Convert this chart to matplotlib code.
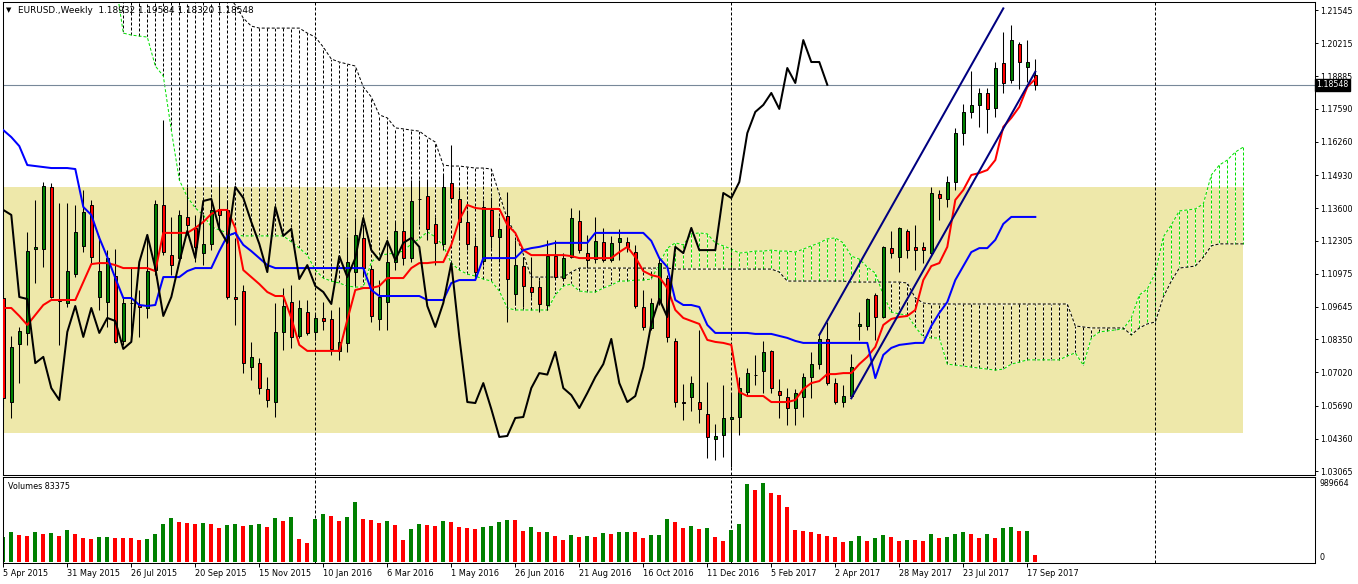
import numpy as np
import matplotlib
matplotlib.use("Agg")
import matplotlib.pyplot as plt
from matplotlib.patches import Rectangle
from matplotlib.transforms import blended_transform_factory

plt.rcParams['font.family'] = ['DejaVu Sans']

# EURUSD weekly bars, first bar = week of 5 Apr 2015
opens = [1.1000, 1.0583, 1.0816, 1.0860, 1.1196, 1.1196, 1.1445, 1.0996, 1.0980, 1.1096,
         1.1209, 1.1373, 1.1004, 1.0984, 1.1088, 1.0828, 1.0980, 1.0972, 1.0960, 1.1112,
         1.1373, 1.1172, 1.1160, 1.1325, 1.1281, 1.1180, 1.1217, 1.1357, 1.1353, 1.1004,
         1.1028, 1.0723, 1.0739, 1.0635, 1.0583, 1.0864, 1.0984, 1.0848, 1.0944, 1.0864,
         1.0920, 1.0916, 1.0788, 1.0820, 1.1104, 1.1241, 1.1116, 1.0916, 1.0984, 1.1144,
         1.1269, 1.1160, 1.1397, 1.1409, 1.1297, 1.1217, 1.1461, 1.1397, 1.1305, 1.1209,
         1.1148, 1.1353, 1.1245, 1.1329, 1.1016, 1.1128, 1.1044, 1.1044, 1.0972, 1.1168,
         1.1080, 1.1164, 1.1309, 1.1180, 1.1156, 1.1225, 1.1152, 1.1225, 1.1225, 1.1184,
         1.0964, 1.0880, 1.0984, 1.1080, 1.0828, 1.0583, 1.0603, 1.0583, 1.0535, 1.0435,
         1.0451, 1.0515, 1.0523, 1.0623, 1.0693, 1.0707, 1.0788, 1.0627, 1.0603, 1.0559,
         1.0603, 1.0683, 1.0735, 1.0836, 1.0659, 1.0583, 1.0607, 1.0888, 1.0888, 1.1012,
         1.0924, 1.1200, 1.1164, 1.1269, 1.1205, 1.1205, 1.1180, 1.1417, 1.1397, 1.1465,
         1.1661, 1.1746, 1.1774, 1.1822, 1.1762, 1.1942, 1.1874, 1.2018, 1.1926, 1.18932]
highs = [1.1032, 1.0848, 1.0884, 1.1265, 1.1393, 1.1465, 1.1461, 1.1381, 1.1381, 1.1373,
         1.1433, 1.1393, 1.1249, 1.1192, 1.1196, 1.1004, 1.1124, 1.1032, 1.1253, 1.1393,
         1.1714, 1.1325, 1.1353, 1.1445, 1.1333, 1.1333, 1.1393, 1.1501, 1.1393, 1.1241,
         1.1052, 1.0824, 1.0760, 1.0683, 1.0980, 1.1040, 1.1052, 1.0992, 1.0992, 1.0940,
         1.0984, 1.0952, 1.0964, 1.1245, 1.1321, 1.1293, 1.1132, 1.1072, 1.1233, 1.1305,
         1.1321, 1.1473, 1.1473, 1.1473, 1.1325, 1.1493, 1.1613, 1.1433, 1.1353, 1.1245,
         1.1393, 1.1405, 1.1325, 1.1425, 1.1233, 1.1164, 1.1164, 1.1072, 1.1233, 1.1233,
         1.1180, 1.1361, 1.1353, 1.1253, 1.1325, 1.1281, 1.1249, 1.1277, 1.1245, 1.1213,
         1.1032, 1.1000, 1.1160, 1.1092, 1.0840, 1.0655, 1.0687, 1.0872, 1.0663, 1.0495,
         1.0651, 1.0619, 1.0683, 1.0719, 1.0772, 1.0828, 1.0792, 1.0675, 1.0639, 1.0635,
         1.0699, 1.0784, 1.0852, 1.0904, 1.0679, 1.0651, 1.0776, 1.0944, 1.1000, 1.1020,
         1.1209, 1.1269, 1.1285, 1.1277, 1.1293, 1.1225, 1.1445, 1.1433, 1.1489, 1.1682,
         1.1778, 1.1910, 1.1842, 1.1842, 1.1946, 1.2066, 1.2094, 1.2026, 1.2034, 1.19584]
lows = [1.0563, 1.0519, 1.0659, 1.0812, 1.1060, 1.1124, 1.1000, 1.0812, 1.0964, 1.1084,
        1.1184, 1.1140, 1.0952, 1.0884, 1.0820, 1.0812, 1.0832, 1.0844, 1.0920, 1.1092,
        1.1172, 1.1092, 1.1144, 1.1253, 1.1144, 1.1132, 1.1192, 1.1281, 1.0996, 1.0892,
        1.0699, 1.0671, 1.0615, 1.0563, 1.0523, 1.0792, 1.0800, 1.0840, 1.0852, 1.0832,
        1.0872, 1.0772, 1.0752, 1.0784, 1.1052, 1.1088, 1.0904, 1.0872, 1.0872, 1.1112,
        1.1132, 1.1144, 1.1293, 1.1233, 1.1132, 1.1192, 1.1393, 1.1233, 1.1192, 1.1084,
        1.1132, 1.1200, 1.1144, 1.0904, 1.0972, 1.0964, 1.1004, 1.0944, 1.0952, 1.1080,
        1.1072, 1.1160, 1.1180, 1.1120, 1.1140, 1.1144, 1.1144, 1.1152, 1.1184, 1.0960,
        1.0872, 1.0872, 1.0972, 1.0824, 1.0563, 1.0511, 1.0547, 1.0499, 1.0359, 1.0351,
        1.0363, 1.0323, 1.0451, 1.0611, 1.0651, 1.0619, 1.0619, 1.0519, 1.0491, 1.0491,
        1.0523, 1.0599, 1.0715, 1.0651, 1.0575, 1.0563, 1.0599, 1.0832, 1.0872, 1.0832,
        1.0920, 1.1160, 1.1104, 1.1160, 1.1112, 1.1140, 1.1172, 1.1313, 1.1365, 1.1433,
        1.1613, 1.1722, 1.1686, 1.1661, 1.1726, 1.1822, 1.1862, 1.1838, 1.1866, 1.18320]
closes = [1.0599, 1.0804, 1.0868, 1.1188, 1.1205, 1.1449, 1.1004, 1.0988, 1.1108, 1.1265,
          1.1345, 1.1164, 1.1108, 1.1160, 1.0824, 1.0980, 1.0980, 1.0964, 1.1108, 1.1377,
          1.1184, 1.1132, 1.1333, 1.1293, 1.1205, 1.1217, 1.1353, 1.1333, 1.1004, 1.0996,
          1.0739, 1.0764, 1.0639, 1.0591, 1.0864, 1.0968, 1.0844, 1.0960, 1.0860, 1.0920,
          1.0908, 1.0796, 1.0824, 1.1144, 1.1253, 1.1120, 1.0928, 1.1004, 1.1144, 1.1269,
          1.1160, 1.1389, 1.1397, 1.1277, 1.1221, 1.1445, 1.1401, 1.1305, 1.1217, 1.1104,
          1.1365, 1.1249, 1.1277, 1.1076, 1.1132, 1.1048, 1.1024, 1.0976, 1.1168, 1.1084,
          1.1160, 1.1321, 1.1192, 1.1152, 1.1229, 1.1152, 1.1221, 1.1241, 1.1205, 1.0968,
          1.0884, 1.0980, 1.1140, 1.0844, 1.0583, 1.0579, 1.0659, 1.0555, 1.0443, 1.0447,
          1.0519, 1.0523, 1.0639, 1.0699, 1.0693, 1.0784, 1.0639, 1.0611, 1.0559, 1.0619,
          1.0683, 1.0735, 1.0836, 1.0659, 1.0583, 1.0607, 1.0723, 1.0896, 1.0996, 1.0924,
          1.1205, 1.1180, 1.1281, 1.1192, 1.1192, 1.1192, 1.1421, 1.1401, 1.1465, 1.1661,
          1.1746, 1.1774, 1.1822, 1.1758, 1.1922, 1.1862, 1.2034, 1.1946, 1.1946, 1.18548]
volumes = [317000, 376000, 338000, 326000, 376000, 351000, 363000, 326000, 401000, 351000,
           301000, 288000, 313000, 315000, 301000, 299000, 297000, 276000, 288000, 351000,
           476000, 551000, 501000, 489000, 476000, 489000, 476000, 426000, 464000, 476000,
           451000, 464000, 476000, 438000, 551000, 514000, 564000, 288000, 238000, 539000,
           601000, 576000, 514000, 564000, 752000, 539000, 526000, 489000, 514000, 464000,
           276000, 413000, 476000, 464000, 451000, 514000, 501000, 438000, 426000, 413000,
           438000, 451000, 501000, 526000, 524000, 388000, 438000, 376000, 378000, 326000,
           276000, 338000, 313000, 326000, 313000, 363000, 351000, 376000, 378000, 374000,
           301000, 338000, 340000, 539000, 501000, 426000, 451000, 413000, 426000, 313000,
           263000, 401000, 476000, 977000, 902000, 989664, 864000, 839000, 689000, 401000,
           388000, 376000, 351000, 326000, 313000, 251000, 263000, 326000, 263000, 301000,
           338000, 313000, 263000, 276000, 274000, 263000, 351000, 301000, 313000, 351000,
           376000, 351000, 301000, 351000, 301000, 426000, 438000, 388000, 390000, 83375]

# Ichimoku lines as drawn on the chart
tenkan = [1.0960, 1.0960, 1.0928, 1.0892, 1.0932, 1.0972, 1.0992, 1.0992, 1.0992, 1.0992,
          1.1064, 1.1136, 1.1140, 1.1140, 1.1132, 1.1120, 1.1120, 1.1120, 1.1120, 1.1108,
          1.1261, 1.1261, 1.1261, 1.1261, 1.1281, 1.1305, 1.1337, 1.1353, 1.1353, 1.1281,
          1.1112, 1.1084, 1.1056, 1.1024, 1.1008, 1.1008, 1.0920, 1.0812, 1.0788, 1.0788,
          1.0788, 1.0788, 1.0788, 1.0912, 1.1032, 1.1040, 1.1040, 1.1048, 1.1080, 1.1080,
          1.1080, 1.1120, 1.1140, 1.1140, 1.1144, 1.1144, 1.1213, 1.1313, 1.1373, 1.1361,
          1.1357, 1.1357, 1.1357, 1.1293, 1.1261, 1.1192, 1.1172, 1.1172, 1.1172, 1.1172,
          1.1172, 1.1168, 1.1160, 1.1160, 1.1160, 1.1160, 1.1160, 1.1184, 1.1205, 1.1164,
          1.1108, 1.1092, 1.1084, 1.1040, 1.0952, 1.0920, 1.0908, 1.0896, 1.0832, 1.0824,
          1.0820, 1.0812, 1.0623, 1.0607, 1.0607, 1.0607, 1.0583, 1.0583, 1.0583, 1.0591,
          1.0635, 1.0659, 1.0667, 1.0695, 1.0695, 1.0699, 1.0699, 1.0735, 1.0764, 1.0804,
          1.0892, 1.0916, 1.0924, 1.0928, 1.0952, 1.1072, 1.1128, 1.1140, 1.1205, 1.1393,
          1.1433, 1.1493, 1.1501, 1.1513, 1.1553, 1.1686, 1.1722, 1.1766, 1.1846, 1.1878]
kijun = [1.1673, 1.1645, 1.1609, 1.1533, 1.1529, 1.1525, 1.1521, 1.1521, 1.1521, 1.1517,
         1.1365, 1.1333, 1.1241, 1.1164, 1.1080, 1.1000, 1.1000, 1.0972, 1.0968, 1.0972,
         1.1084, 1.1084, 1.1084, 1.1108, 1.1120, 1.1120, 1.1120, 1.1188, 1.1249, 1.1261,
         1.1213, 1.1188, 1.1160, 1.1132, 1.1120, 1.1120, 1.1120, 1.1120, 1.1120, 1.1120,
         1.1120, 1.1120, 1.1120, 1.1120, 1.1120, 1.1120, 1.1032, 1.1008, 1.1008, 1.1008,
         1.1008, 1.1008, 1.1008, 1.0992, 1.0992, 1.0992, 1.1060, 1.1072, 1.1072, 1.1072,
         1.1160, 1.1160, 1.1160, 1.1160, 1.1160, 1.1192, 1.1200, 1.1205, 1.1213, 1.1221,
         1.1221, 1.1221, 1.1221, 1.1221, 1.1261, 1.1261, 1.1261, 1.1261, 1.1261, 1.1261,
         1.1261, 1.1229, 1.1160, 1.1124, 1.0992, 1.0972, 1.0972, 1.0964, 1.0892, 1.0860,
         1.0860, 1.0860, 1.0860, 1.0860, 1.0856, 1.0856, 1.0856, 1.0848, 1.0840, 1.0828,
         1.0820, 1.0820, 1.0820, 1.0820, 1.0820, 1.0820, 1.0820, 1.0820, 1.0820, 1.0679,
         1.0772, 1.0800, 1.0812, 1.0816, 1.0820, 1.0820, 1.0888, 1.0940, 1.0984, 1.1072,
         1.1128, 1.1184, 1.1200, 1.1200, 1.1233, 1.1297, 1.1325, 1.1325, 1.1325, 1.1325]
chikou_shift = 26

span_start = 14  # first bar where the cloud reaches into view
span_a = [1.2275, 1.2062, 1.2054, 1.2050, 1.2046, 1.1930, 1.1890, 1.1673, 1.1473, 1.1405,
          1.1361, 1.1333, 1.1285, 1.1273, 1.1261, 1.1253, 1.1249, 1.1249, 1.1249, 1.1249,
          1.1249, 1.1249, 1.1225, 1.1200, 1.1172, 1.1112, 1.1080, 1.1068, 1.1060, 1.1048,
          1.1044, 1.1044, 1.1144, 1.1172, 1.1176, 1.1180, 1.1188, 1.1217, 1.1237, 1.1265,
          1.1245, 1.1209, 1.1140, 1.1112, 1.1096, 1.1088, 1.1076, 1.1068, 1.1028, 1.0960,
          1.0952, 1.0952, 1.0952, 1.0952, 1.0952, 1.1012, 1.1048, 1.1056, 1.1028, 1.1024,
          1.1024, 1.1040, 1.1052, 1.1068, 1.1068, 1.1072, 1.1072, 1.1076, 1.1136, 1.1200,
          1.1221, 1.1213, 1.1257, 1.1261, 1.1257, 1.1221, 1.1209, 1.1196, 1.1180, 1.1184,
          1.1188, 1.1188, 1.1192, 1.1188, 1.1188, 1.1184, 1.1196, 1.1209, 1.1221, 1.1237,
          1.1241, 1.1221, 1.1168, 1.1156, 1.1124, 1.1100, 1.1012, 1.0944, 1.0936, 1.0932,
          1.0884, 1.0844, 1.0840, 1.0840, 1.0735, 1.0731, 1.0727, 1.0723, 1.0719, 1.0715,
          1.0711, 1.0715, 1.0735, 1.0743, 1.0752, 1.0752, 1.0752, 1.0752, 1.0752, 1.0768,
          1.0780, 1.0731, 1.0840, 1.0864, 1.0868, 1.0872, 1.0876, 1.0920, 1.1012, 1.1036,
          1.1100, 1.1245, 1.1293, 1.1349, 1.1353, 1.1357, 1.1377, 1.1493, 1.1533, 1.1553,
          1.1585, 1.1605]
span_b = [1.2275, 1.2275, 1.2275, 1.2275, 1.2275, 1.2275, 1.2275, 1.2275, 1.2275, 1.2275,
          1.2275, 1.2275, 1.2275, 1.2275, 1.2215, 1.2175, 1.2122, 1.2090, 1.2082, 1.2082,
          1.2082, 1.2082, 1.2082, 1.2082, 1.2062, 1.2046, 1.2006, 1.1958, 1.1946, 1.1938,
          1.1930, 1.1846, 1.1806, 1.1734, 1.1722, 1.1682, 1.1678, 1.1673, 1.1669, 1.1645,
          1.1625, 1.1533, 1.1529, 1.1529, 1.1525, 1.1521, 1.1521, 1.1517, 1.1417, 1.1317,
          1.1257, 1.1176, 1.1084, 1.1084, 1.1084, 1.1084, 1.1084, 1.1104, 1.1120, 1.1120,
          1.1120, 1.1120, 1.1120, 1.1120, 1.1120, 1.1120, 1.1120, 1.1120, 1.1120, 1.1120,
          1.1116, 1.1116, 1.1116, 1.1116, 1.1116, 1.1116, 1.1116, 1.1116, 1.1116, 1.1116,
          1.1116, 1.1116, 1.1116, 1.1104, 1.1068, 1.1068, 1.1068, 1.1068, 1.1068, 1.1068,
          1.1068, 1.1068, 1.1064, 1.1064, 1.1064, 1.1064, 1.1064, 1.1064, 1.1064, 1.1060,
          1.1000, 1.0980, 1.0976, 1.0976, 1.0976, 1.0976, 1.0976, 1.0976, 1.0976, 1.0976,
          1.0976, 1.0976, 1.0976, 1.0976, 1.0976, 1.0976, 1.0976, 1.0976, 1.0976, 1.0976,
          1.0888, 1.0884, 1.0880, 1.0880, 1.0880, 1.0880, 1.0880, 1.0852, 1.0880, 1.0896,
          1.0904, 1.1004, 1.1068, 1.1120, 1.1124, 1.1128, 1.1164, 1.1209, 1.1217, 1.1217,
          1.1217, 1.1217]

# chart objects
zone_top, zone_bottom, zone_end = 1.1444, 1.0458, 155
channel_x = [[102, 125], [106, 129]]
channel_y = [[1.0852, 1.2161], [1.0598, 1.1907]]
year_breaks = [39, 91, 144]
bid = 1.18548

date_labels = ['5 Apr 2015', '31 May 2015', '26 Jul 2015', '20 Sep 2015', '15 Nov 2015',
               '10 Jan 2016', '6 Mar 2016', '1 May 2016', '26 Jun 2016', '21 Aug 2016',
               '16 Oct 2016', '11 Dec 2016', '5 Feb 2017', '2 Apr 2017', '28 May 2017',
               '23 Jul 2017', '17 Sep 2017']
label_step = 8
price_ticks = [1.21545, 1.20215, 1.18885, 1.17590, 1.16260, 1.14930, 1.13600, 1.12305,
               1.10975, 1.09645, 1.08350, 1.07020, 1.05690, 1.04360, 1.03065]

# ---- layout (pixel boxes of the MT4 window) ----
W, H = 1358, 584
fig = plt.figure(figsize=(W / 100, H / 100), dpi=100, facecolor='white')


def px_box(x0, y0, x1, y1):
    return [x0 / W, 1 - y1 / H, (x1 - x0) / W, (y1 - y0) / H]


ax = fig.add_axes(px_box(2.7, 1.7, 1315, 475))
axv = fig.add_axes(px_box(2.7, 477.3, 1315, 562.7), sharex=ax)

o, h, l, c = (np.array(a) for a in (opens, highs, lows, closes))
x = np.arange(len(c))
GREEN, RED, LIME = '#008000', '#ff0000', '#00e000'

# yellow zone rectangle in the background
ax.add_patch(Rectangle((-5, zone_bottom), zone_end + 5, zone_top - zone_bottom,
                       facecolor='#eee8aa', edgecolor='none', zorder=0))

# cloud: one dotted vertical per bar between the two spans
sx = np.arange(span_start, span_start + len(span_a))
sa, sb = np.array(span_a), np.array(span_b)
hatch_col = np.where(sa > sb, LIME, 'black')
ax.vlines(sx, sa, sb, colors=hatch_col, linestyles=(0, (3, 2)), linewidth=0.72,
          gapcolor='white', zorder=1)
ax.plot(sx, sa, color=LIME, lw=0.72, ls=(0, (3, 2)), gapcolor='white', zorder=1.2)
ax.plot(sx, sb, color='black', lw=0.72, ls=(0, (3, 2)), gapcolor='white', zorder=1.2)

# bid line and year separators
ax.axhline(bid, color='#778899', lw=0.8, zorder=1.5)
for b in year_breaks:
    ax.axvline(b, color='black', lw=0.72, ls=(0, (3, 2)), zorder=1.6)
    axv.axvline(b, color='black', lw=0.72, ls=(0, (3, 2)), zorder=1.6)

# candles
up = c >= o
ax.vlines(x, l, h, color='black', lw=0.75, zorder=3)
ax.bar(x, np.abs(c - o), bottom=np.minimum(o, c), width=0.42,
       color=np.where(up, GREEN, RED), edgecolor='black', linewidth=0.7, zorder=4)

# ichimoku lines
ax.plot(x, tenkan, color=RED, lw=1.45, zorder=5)
ax.plot(x, kijun, color='#0000ff', lw=1.45, zorder=5)
ax.plot(x[:-chikou_shift], c[chikou_shift:], color='black', lw=1.45, zorder=5)

# trend channel
for tx, ty in zip(channel_x, channel_y):
    ax.plot(tx, ty, color='#000080', lw=1.45, zorder=6)

x_lo, x_hi = (2.7 - 3.3) / 8, (1315 - 3.3) / 8
ax.set_xlim(x_lo, x_hi)
ax.set_ylim(1.02905, 1.21878)

ax.yaxis.tick_right()
ax.set_yticks(price_ticks)
ax.set_yticklabels([f'{p:.5f}' for p in price_ticks])
ax.tick_params(axis='y', length=2.2, width=0.7, pad=1.5, labelsize=5.7, colors='black')
ax.tick_params(axis='x', bottom=False, labelbottom=False)
for s in ax.spines.values():
    s.set_color('black')
    s.set_linewidth(0.75)

ax.text(1.0012, bid, f'{bid:.5f}', transform=blended_transform_factory(ax.transAxes, ax.transData),
        ha='left', va='center', color='white', fontsize=5.7, zorder=10, clip_on=False,
        bbox=dict(boxstyle='square,pad=0.2', facecolor='black', edgecolor='black'))

# volumes panel
v = np.array(volumes)
vol_col = [GREEN] + [GREEN if v[i] > v[i - 1] else RED for i in range(1, len(v))]
axv.bar(x, v, width=0.46, color=vol_col, linewidth=0, zorder=2)
vmax = v.max()
per_px = vmax / 79
axv.set_ylim(-0.7 * per_px, 84.7 * per_px)
axv.yaxis.tick_right()
axv.set_yticks([0, vmax])
axv.set_yticklabels(['0', f'{vmax}'])
axv.get_yticklabels()[0].set_va('bottom')
axv.tick_params(axis='y', length=0, pad=3, labelsize=5.7)

tick_idx = list(range(0, len(x), label_step))
axv.set_xticks(tick_idx)
axv.set_xticklabels(date_labels, ha='left')
axv.tick_params(axis='x', length=3, width=0.7, pad=1.2, labelsize=5.9)
for s in axv.spines.values():
    s.set_color('black')
    s.set_linewidth(0.75)

# header texts
fig.text(6 / W, 1 - 10.5 / H, '\u25bc', fontsize=5, va='center', ha='left')
fig.text(18 / W, 1 - 10.5 / H,
         f'EURUSD.,Weekly  {o[-1]:.5f} {h[-1]:.5f} {l[-1]:.5f} {c[-1]:.5f}',
         fontsize=6.4, va='center', ha='left')
fig.text(7.5 / W, 1 - 486.5 / H, f'Volumes {volumes[-1]}', fontsize=5.8, va='center', ha='left')

fig.savefig('out.png', dpi=100, facecolor='white')
